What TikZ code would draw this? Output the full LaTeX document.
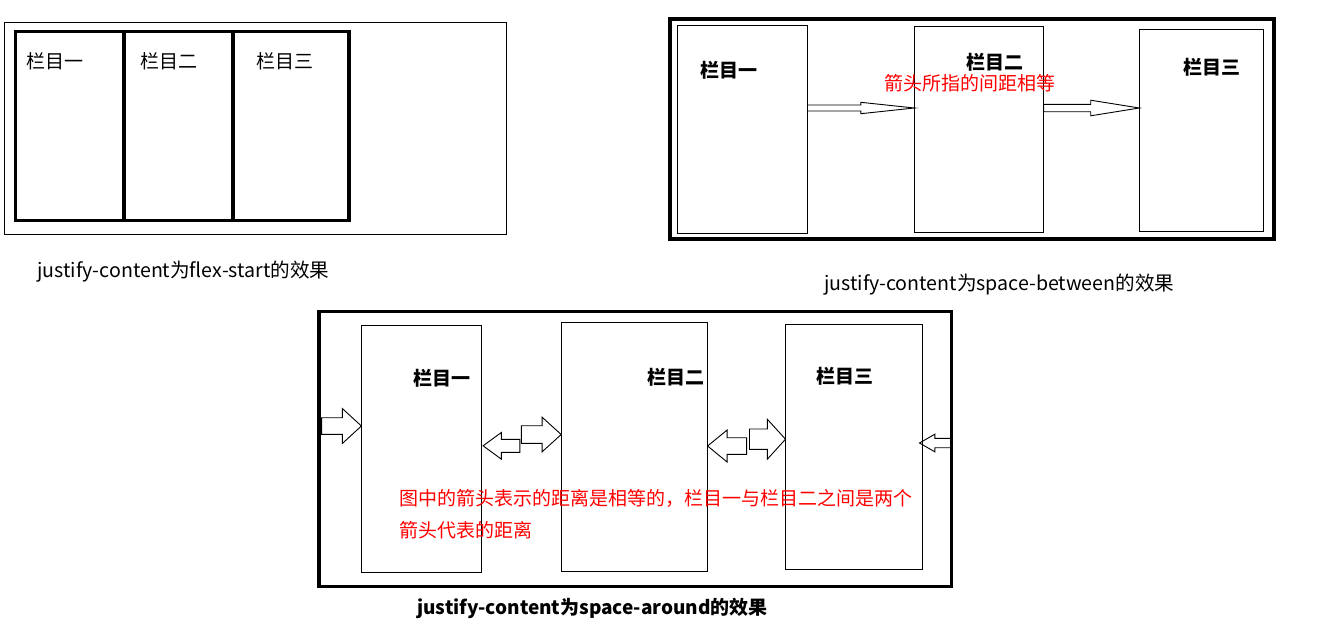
\documentclass[tikz,border=0pt]{standalone}
\usepackage{fontspec}
\setmainfont{Noto Sans CJK SC}
\usetikzlibrary{calc,positioning}

\newcommand{\blockarrow}[5]{%
  \draw[arrowline] ($(#1)+(0,#3)$) -- ($(#2)!#5!(#1)+(0,#3)$)
    -- ($(#2)!#5!(#1)+(0,#4)$) -- (#2) -- ($(#2)!#5!(#1)+(0,-#4)$)
    -- ($(#2)!#5!(#1)+(0,-#3)$) -- ($(#1)+(0,-#3)$) -- cycle;}

\begin{document}
\begin{tikzpicture}[x=1pt,y=-1pt,
  frame/.style={draw,inner sep=0,outer sep=0,anchor=north west,line width=1pt},
  thickframe/.style={frame,line width=3.5pt},
  lbl/.style={inner sep=0,anchor=west,font=\fontsize{19}{22}\selectfont},
  blbl/.style={lbl,font=\fontsize{19}{22}\selectfont\bfseries},
  caption/.style={lbl,font=\fontsize{19.6}{22}\selectfont},
  note/.style={lbl,text=red},
  arrowline/.style={draw,line width=0.9pt}]
\useasboundingbox (0,0) rectangle (1320,638);

% flex-start
\node[frame,minimum width=502pt,minimum height=212pt] (p1) at (4.5,22.5) {};
\node[thickframe,minimum width=108.7pt,minimum height=188.6pt] (p1a) at (15.3,31.7) {};
\node[thickframe,minimum width=109pt,minimum height=188.6pt] (p1b) at (124,31.7) {};
\node[thickframe,minimum width=116pt,minimum height=188.6pt] (p1c) at (233,31.7) {};
\node[lbl] (l1a) at (26,61) {栏目一};
\node[lbl] (l1b) at (140,61) {栏目二};
\node[lbl] (l1c) at (256,61) {栏目三};
\node[caption] (c1) at (37.3,271.7) {justify-content为flex-start的效果};

% space-between
\node[thickframe,minimum width=604pt,minimum height=220pt] (p2) at (670,19) {};
\node[frame,minimum width=130.5pt,minimum height=208pt] (p2a) at (677,25.3) {};
\node[frame,minimum width=129.4pt,minimum height=206.3pt] (p2b) at (914.3,26) {};
\node[frame,minimum width=124.2pt,minimum height=202pt] (p2c) at (1139.3,29.3) {};
\node[blbl] (l2a) at (700,70) {栏目一};
\node[blbl] (l2b) at (966,62) {栏目二};
\node[blbl] (l2c) at (1183.5,67) {栏目三};
\node[note] (n2) at (884,83) {箭头所指的间距相等};
\coordinate (s21) at (p2a.east |- 0,108);
\coordinate (t21) at (p2b.west |- 0,108);
\coordinate (s22) at (p2b.east |- 0,108);
\coordinate (t22) at (p2c.west |- 0,108);
\blockarrow{s21}{t21}{3}{5.7}{53.5pt}
\blockarrow{s22}{t22}{3.7}{7.8}{48.6pt}
\node[caption] (c2) at (824,285) {justify-content为space-between的效果};

% space-around
\node[thickframe,minimum width=632.7pt,minimum height=274.6pt] (p3) at (319,311.7) {};
\node[frame,minimum width=120.2pt,minimum height=246.6pt] (p3a) at (361.4,325.7) {};
\node[frame,minimum width=146.4pt,minimum height=249pt] (p3b) at (561.2,322.3) {};
\node[frame,minimum width=137.3pt,minimum height=245pt] (p3c) at (785.5,324.3) {};
\node[blbl] (l3a) at (412.8,378) {栏目一};
\node[blbl] (l3b) at (647.5,377) {栏目二};
\node[blbl] (l3c) at (816.6,376) {栏目三};
\coordinate (s31) at (321.6,426);
\coordinate (t31) at (p3a.west |- 0,426);
\coordinate (s32) at (519.8,445.8);
\coordinate (t32) at ([xshift=1.5pt]p3a.east |- 0,445.8);
\coordinate (s33) at (521.4,434.5);
\coordinate (t33) at (p3b.west |- 0,434.5);
\coordinate (s34) at (746.6,446);
\coordinate (t34) at (p3b.east |- 0,446);
\coordinate (s35) at (749.5,439.2);
\coordinate (t35) at (p3c.west |- 0,439.2);
\coordinate (s36) at (p3.east |- 0,443);
\coordinate (t36) at (919.5,443);
\blockarrow{s31}{t31}{8.3}{17.5}{19.1pt}
\blockarrow{s32}{t32}{6.5}{13.3}{18.2pt}
\blockarrow{s33}{t33}{8.8}{17.3}{19.1pt}
\blockarrow{s34}{t34}{8.3}{16}{19.5pt}
\blockarrow{s35}{t35}{10.2}{20}{18.2pt}
\blockarrow{s36}{t36}{4.7}{8.8}{15.3pt}
\node[note] (n3a) at (399,498.3) {图中的箭头表示的距离是相等的，栏目一与栏目二之间是两个};
\node[note] (n3b) at (399,530.7) {箭头代表的距离};
\node[blbl] (c3) at (417,608) {justify-content为space-around的效果};
\end{tikzpicture}
\end{document}
